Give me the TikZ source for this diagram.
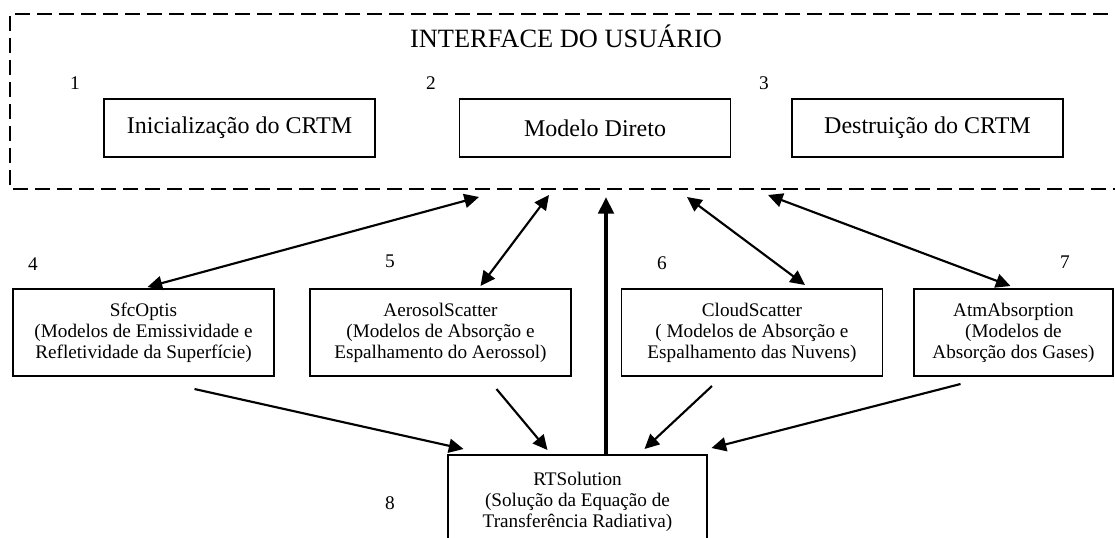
\documentclass[tikz,border=0pt]{standalone}
\usepackage{fontspec}
\setmainfont{Liberation Serif}
\usetikzlibrary{arrows.meta,calc}

\begin{document}
\begin{tikzpicture}[x=0.75pt, y=-0.75pt, >={Triangle[length=11pt, width=10.5pt]},
    box/.style={draw, line width=1.1pt, inner sep=0pt, outer sep=0pt, align=center},
    mainbox/.style={box, minimum width=203.25pt, minimum height=43.5pt, font=\fontsize{18}{21}\selectfont},
    subbox/.style={box, minimum width=195.75pt, minimum height=65.25pt, font=\fontsize{14.4}{15.75}\selectfont},
    num/.style={anchor=base, font=\fontsize{14.5}{17}\selectfont},
    link/.style={line width=1.6pt, ->},
    dlink/.style={line width=1.6pt, <->}]
    \useasboundingbox (0,0) rectangle (1115,537);

    % Draw the user interface frame (open to the right)
    \draw[line width=1.1pt, dash pattern=on 11pt off 5.5pt] (1130,14) -- (10,14) -- (10,189) -- (1130,189);
    \node[anchor=base, font=\fontsize{19.8}{23}\selectfont] (title) at (566,47) {INTERFACE DO USUÁRIO};

    % Draw the three boxes of the interface
    \node[mainbox] (ini) at (239.5,128) {Inicialização do CRTM};
    \node[mainbox] (dir) at (595,128) {Modelo Direto};
    \node[mainbox] (des) at (927.5,128) {Destruição do CRTM};
    \node[num] (n1) at (75,89) {1};
    \node[num] (n2) at (431,89) {2};
    \node[num] (n3) at (764,89) {3};

    % Draw the modules
    \node[subbox] (sfc) at (143.5,332.5) {SfcOptis\\(Modelos de Emissividade e\\Refletividade da Superfície)};
    \node[subbox] (aer) at (440.5,332.5) {AerosolScatter\\(Modelos de Absorção e\\Espalhamento do Aerossol)};
    \node[subbox] (cld) at (752,332.5) {CloudScatter\\( Modelos de Absorção e\\Espalhamento das Nuvens)};
    \node[subbox, minimum width=149.25pt] (atm) at (1013.5,332.5) {AtmAbsorption\\(Modelos de\\Absorção dos Gases)};
    \node[num] (n4) at (33,270) {4};
    \node[num] (n5) at (390,267) {5};
    \node[num] (n6) at (662,269) {6};
    \node[num] (n7) at (1065,268) {7};

    % Draw the radiative transfer solver and label it
    \node[subbox, minimum width=194.25pt, minimum height=70.5pt] (rts) at (577.5,502) {RTSolution\\(Solução da Equação de\\Transferência Radiativa)};
    \node[num] (n8) at (390,509) {8};

    % Points on the frame where the arrows end
    \coordinate (f4) at (479,197);
    \coordinate (f5) at (549,195);
    \coordinate (f6) at (687,197);
    \coordinate (f7) at (768,195);
    \coordinate (f8) at (606,197);

    % Draw the links between the interface and the modules
    \draw[dlink] ($(sfc.north)+(4,-2)$) -- (f4);
    \draw[dlink] ($(aer.north)+(40,-3)$) -- (f5);
    \draw[dlink] ($(cld.north)+(53,-4)$) -- (f6);
    \draw[dlink] ($(atm.north)+(-3,-3)$) -- (f7);
    \draw[line width=2.8pt, -{Triangle[length=12.5pt, width=11.5pt]}] ($(rts.north)+(28.5,0)$) -- (f8);

    % Draw the links from the modules to the solver
    \draw[link] ($(sfc.south)+(51,13)$) -- ($(rts.north)+(-114,-6)$);
    \draw[link] ($(aer.south)+(56,13)$) -- ($(rts.north)+(-30,-5)$);
    \draw[link] ($(cld.south)+(-40,10)$) -- ($(rts.north)+(67,-6)$);
    \draw[link] ($(atm.south)+(-53,8)$) -- ($(rts.north)+(134,-7)$);
\end{tikzpicture}
\end{document}
